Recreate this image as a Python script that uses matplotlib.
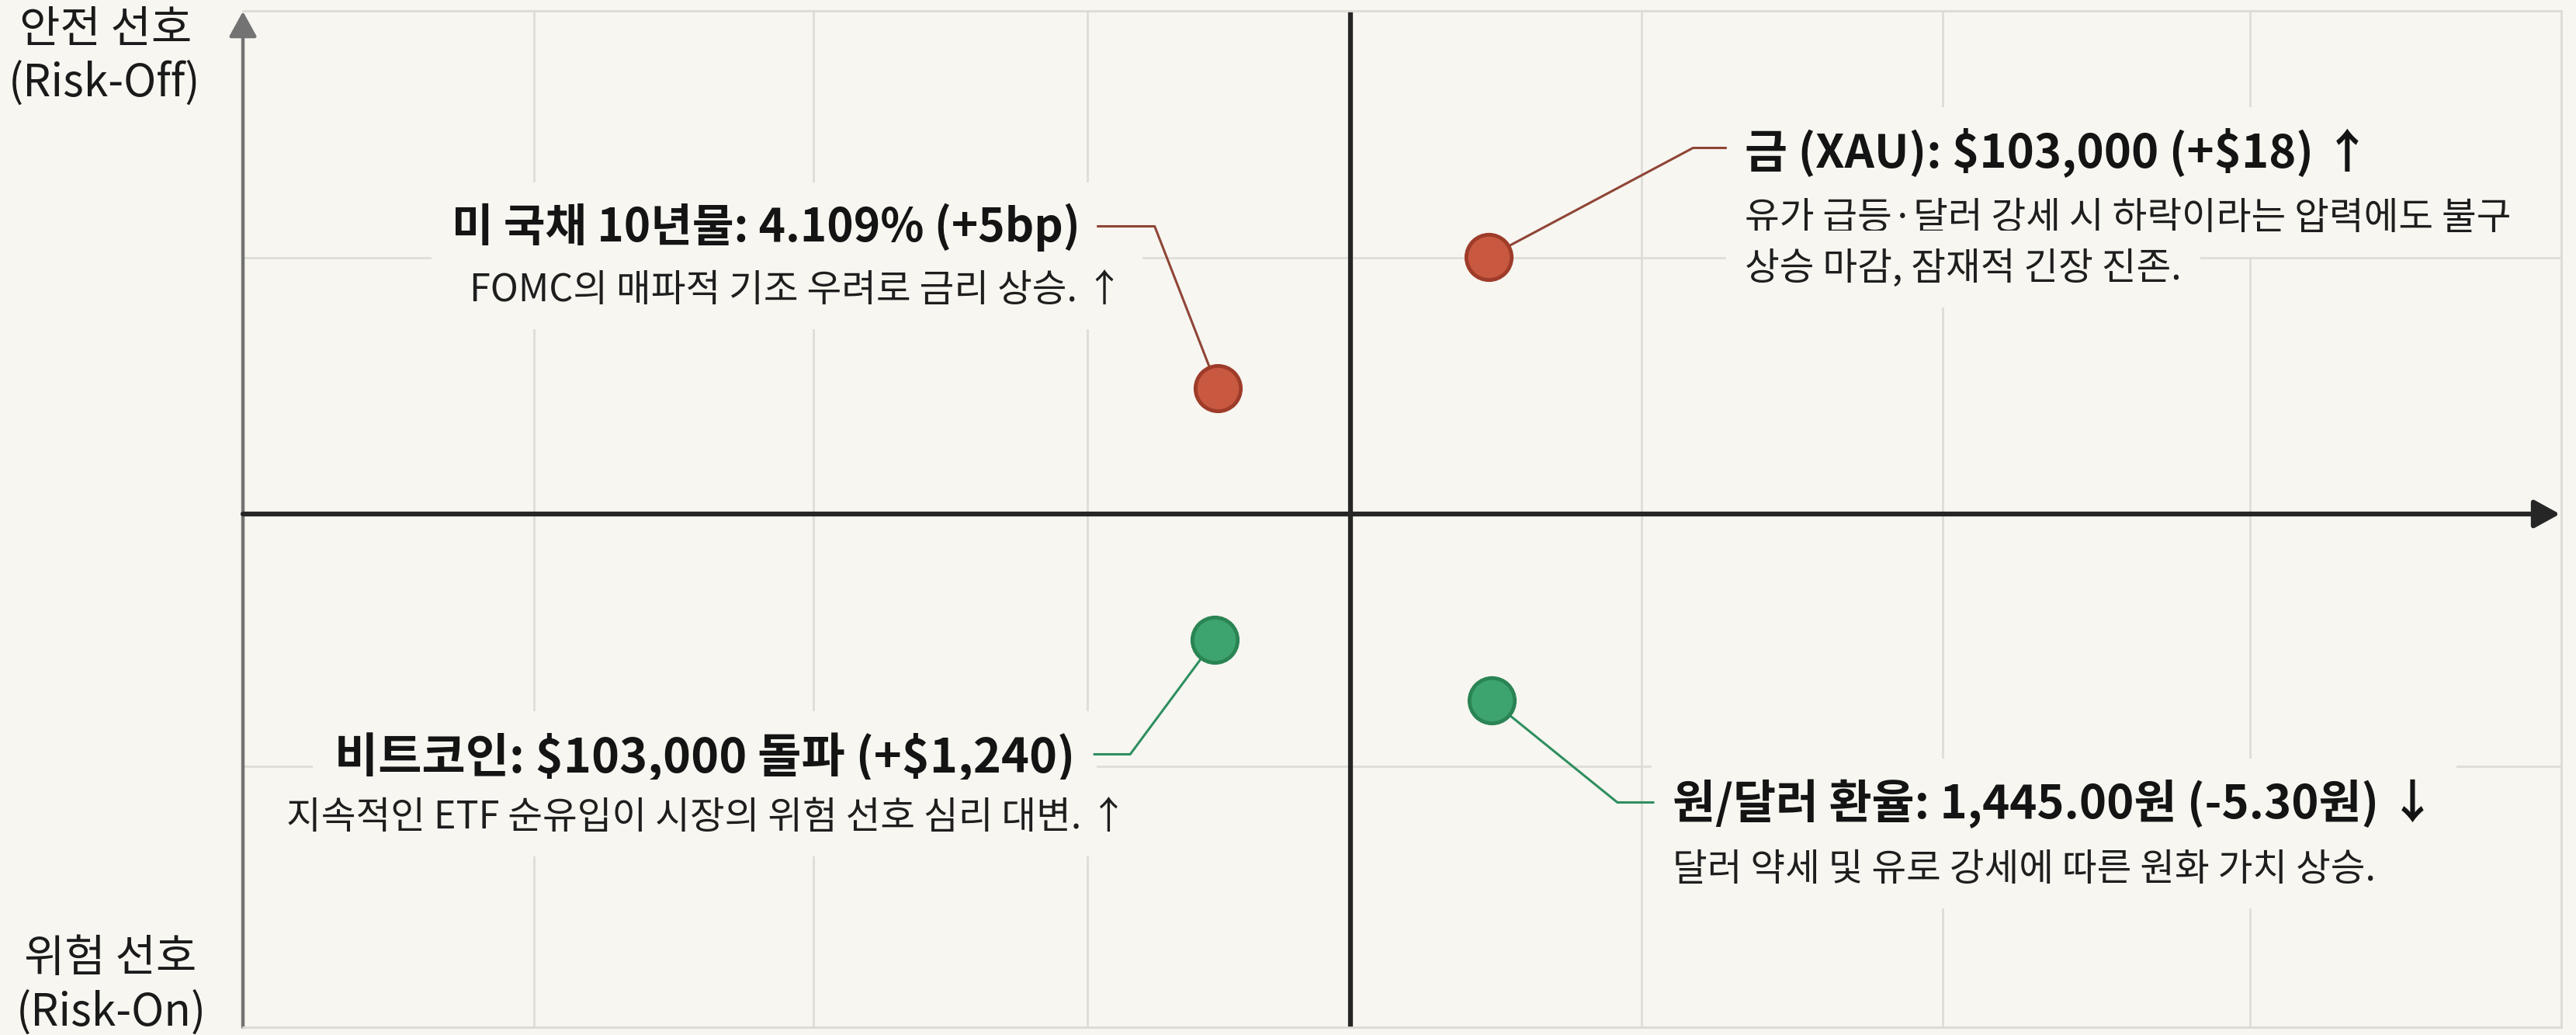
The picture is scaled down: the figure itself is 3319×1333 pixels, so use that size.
import matplotlib
matplotlib.use("Agg")
import matplotlib.pyplot as plt

plt.rcParams['font.family'] = ['Noto Sans CJK KR', 'DejaVu Sans']
plt.rcParams['text.parse_math'] = False

# --- data ---
titles = ['미 국채 10년물: 4.109% (+5bp)',
          '금 (XAU): $103,000 (+$18) ↑',
          '비트코인: $103,000 돌파 (+$1,240)',
          '원/달러 환율: 1,445.00원 (-5.30원) ↓']
notes = [['FOMC의 매파적 기조 우려로 금리 상승. ↑'],
         ['유가 급등·달러 강세 시 하락이라는 압력에도 불구', '상승 마감, 잠재적 긴장 진존.'],
         ['지속적인 ETF 순유입이 시장의 위험 선호 심리 대변. ↑'],
         ['달러 약세 및 유로 강세에 따른 원화 가치 상승.']]
risk_x = [-0.48, 0.50, -0.49, 0.51]
safe_y = [0.50, 1.02, -0.50, -0.74]
mood = ['off', 'off', 'on', 'on']

# --- style / layout (pixel offsets from the dot: right, down) ---
BG = '#f7f6f1'
fill = {'off': '#c8583f', 'on': '#3ea46f'}
edge = {'off': '#9e3c2a', 'on': '#2a8453'}
lead = {'off': '#8f4536', 'on': '#2f8f60'}
elbow = [(-81, -208), (263, -140), (-109, 147), (162, 131)]
lend = [(-154, -208), (305, -140), (-155, 147), (208, 131)]
title_at = [(-177, -207, 'right'), (330, -134, 'left'), (-180, 152, 'right'), (233, 133, 'left')]
title_size = [42, 43, 44, 43]
note_at = [[(-121, -125, 'right')], [(330, -49, 'left'), (330, 16, 'left')],
           [(-112, 229, 'right')], [(233, 218, 'left')]]

W, H = 3319, 1333
fig = plt.figure(figsize=(W / 100, H / 100), dpi=100, facecolor=BG)
L, R, T, B = 313, 3300, 14, 1323
ax = fig.add_axes([L / W, (H - B) / H, (R - L) / W, (B - T) / H])
ax.set_facecolor(BG)
xmin, xmax = -4.0, 4.373
ymin, ymax = -2.034, 1.994
ax.set_xlim(xmin, xmax)
ax.set_ylim(ymin, ymax)
ax.set_xticks([])
ax.set_yticks([])
for s in ['top', 'right', 'bottom']:
    ax.spines[s].set_color('#dcdbd6')
    ax.spines[s].set_linewidth(2)
ax.spines['left'].set_visible(False)

# grid
for gx in [-2.95, -1.94, -0.95, 1.05, 2.14, 3.25]:
    ax.axvline(gx, color='#deddd8', lw=2, zorder=0.5)
for gy in [1.015, -1.0]:
    ax.axhline(gy, color='#deddd8', lw=2, zorder=0.5)

# axes
ax.plot([0, 0], [ymin, ymax], color='#262626', lw=4.5, zorder=2, solid_capstyle='butt')
ax.annotate('', xy=(xmin, ymax - 0.002), xytext=(xmin, ymin), annotation_clip=False,
            arrowprops=dict(arrowstyle='-|>,head_length=1.0,head_width=0.55', mutation_scale=20,
                            color='#737373', lw=3.2, shrinkA=0, shrinkB=0), zorder=2)
ax.annotate('', xy=(xmax - 0.005, 0), xytext=(xmin, 0), annotation_clip=False,
            arrowprops=dict(arrowstyle='-|>,head_length=1.0,head_width=0.55', mutation_scale=20,
                            color='#262626', lw=4.5, shrinkA=0, shrinkB=0), zorder=2)

inv = ax.transData.inverted()
for i in range(len(titles)):
    m = mood[i]
    cx, cy = ax.transData.transform((risk_x[i], safe_y[i]))
    pts = [(cx, cy), (cx + elbow[i][0], cy - elbow[i][1]), (cx + lend[i][0], cy - lend[i][1])]
    pts = inv.transform(pts)
    ax.plot(pts[:, 0], pts[:, 1], color=lead[m], lw=2.2, zorder=4)
    ax.plot(risk_x[i], safe_y[i], 'o', ms=42, mfc=fill[m], mec=edge[m], mew=3.5, zorder=5)

    dx, dy, ha = title_at[i]
    ax.annotate(titles[i], (risk_x[i], safe_y[i]), xytext=(dx, -dy), textcoords='offset pixels',
                ha=ha, va='center', fontsize=title_size[i], fontweight='bold', color='#141414',
                zorder=3, bbox=dict(boxstyle='square,pad=0.45', fc=BG, ec='none'))
    for j, txt in enumerate(notes[i]):
        dx, dy, ha = note_at[i][j]
        ax.annotate(txt, (risk_x[i], safe_y[i]), xytext=(dx, -dy), textcoords='offset pixels',
                    ha=ha, va='center', fontsize=35, color='#1e1e1e', zorder=3,
                    bbox=dict(boxstyle='square,pad=0.5', fc=BG, ec='none'))

# quadrant labels
for txt, x, y in [('안전 선호', 136, 39), ('(Risk-Off)', 134, 108),
                  ('위험 선호', 142, 1235), ('(Risk-On)', 143, 1305)]:
    fig.text(x / W, 1 - y / H, txt, ha='center', va='center', fontsize=41, color='#1a1a1a')

fig.savefig('out.png', dpi=100, facecolor=BG)
